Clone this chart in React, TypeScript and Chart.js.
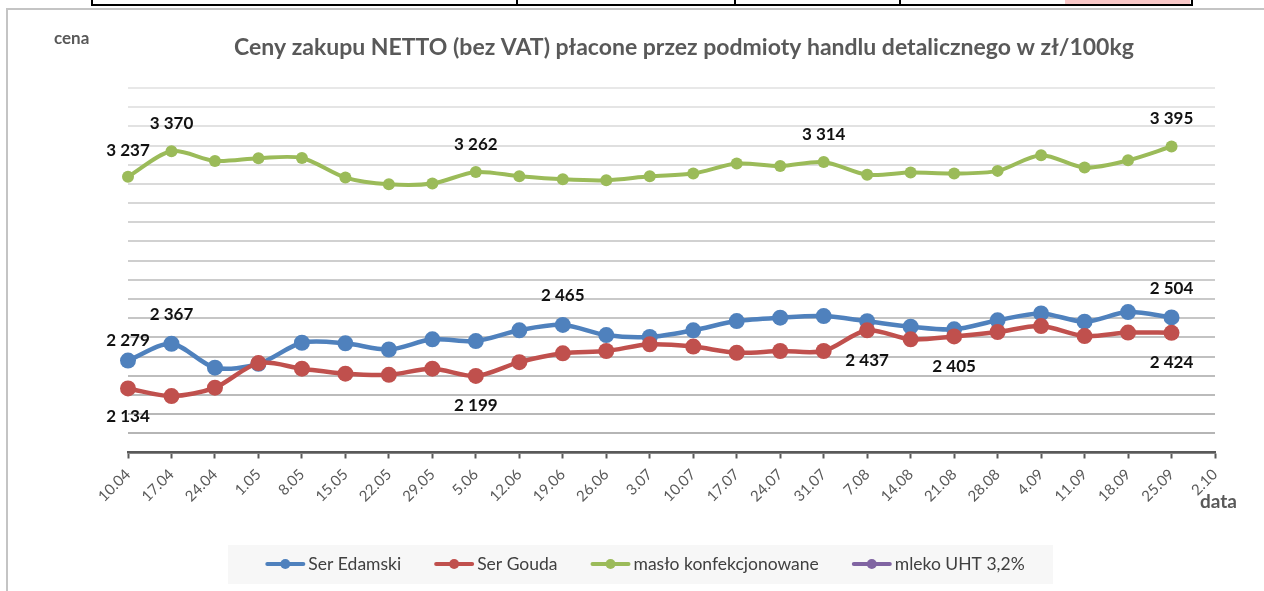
import React, { useEffect, useRef } from "react";
import { Chart, registerables } from "chart.js";

Chart.register(...registerables);

// ---------- DATA ----------
const categories = [
  "10.04", "17.04", "24.04", "1.05", "8.05", "15.05", "22.05", "29.05", "5.06",
  "12.06", "19.06", "26.06", "3.07", "10.07", "17.07", "24.07", "31.07", "7.08",
  "14.08", "21.08", "28.08", "4.09", "11.09", "18.09", "25.09", "2.10",
];

const serEdamski = [
  2279, 2367, 2242, 2262, 2372, 2369, 2337, 2390, 2381, 2437, 2465, 2412, 2402,
  2437, 2485, 2503, 2511, 2484, 2456, 2442, 2489, 2525, 2482, 2532, 2504, null,
];
const serGouda = [
  2134, 2094, 2138, 2266, 2237, 2211, 2205, 2237, 2199, 2271, 2317, 2329, 2364,
  2352, 2320, 2329, 2329, 2437, 2390, 2405, 2428, 2459, 2407, 2425, 2424, null,
];
const masloKonfekcjonowane = [
  3237, 3370, 3320, 3334, 3335, 3233, 3198, 3202, 3262, 3240, 3224, 3219, 3240,
  3254, 3306, 3294, 3314, 3248, 3259, 3254, 3268, 3350, 3285, 3323, 3395, null,
];
const mlekoUHT: (number | null)[] = [];

const seriesNames = ["Ser Edamski", "Ser Gouda", "masło konfekcjonowane", "mleko UHT 3,2%"];

// indices of points that carry a value label
const edamskiLabelIdx = [0, 1, 10, 24];
const goudaLabelIdx = [0, 8, 17, 19, 24];
const masloLabelIdx = [0, 1, 8, 16, 24];

const yMin = 1800;
const yMax = 3700;
const yStep = 100;

const titleText = "Ceny zakupu NETTO (bez VAT) płacone przez podmioty handlu detalicznego w zł/100kg";
const yAxisName = "cena";
const xAxisName = "data";

// ---------- STYLE ----------
const FONT = "Lato, 'Open Sans', sans-serif";
const COLORS = ["#4F81BD", "#C0504D", "#9BBB59", "#8064A2"];
const W = 1264;
const H = 591;

const fmt = (v: number) => String(v).replace(/\B(?=(\d{3})+(?!\d))/g, " ");

const decorPlugin = {
  id: "decor",
  afterDatasetsDraw(chart: any) {
    const ctx = chart.ctx;
    const specs = [
      { ds: 0, idx: edamskiLabelIdx, dy: -29, first: -20 },
      { ds: 1, idx: goudaLabelIdx, dy: 30, first: 28 },
      { ds: 2, idx: masloLabelIdx, dy: -28, first: -26 },
    ];
    ctx.save();
    ctx.font = `bold 17px ${FONT}`;
    ctx.fillStyle = "#111111";
    ctx.textAlign = "center";
    ctx.textBaseline = "middle";
    specs.forEach((s) => {
      const meta = chart.getDatasetMeta(s.ds);
      const data = chart.data.datasets[s.ds].data;
      s.idx.forEach((i) => {
        const el = meta.data[i];
        if (!el || data[i] == null) return;
        ctx.fillText(fmt(data[i]), el.x, el.y + (i === 0 ? s.first : s.dy));
      });
    });
    ctx.restore();
  },
  afterDraw(chart: any) {
    const ctx = chart.ctx;
    ctx.save();
    // title
    ctx.font = `bold 23px ${FONT}`;
    ctx.fillStyle = "#595959";
    ctx.textAlign = "center";
    ctx.textBaseline = "middle";
    ctx.fillText(titleText, 684, 48);
    // axis names
    ctx.textAlign = "left";
    ctx.font = `bold 17px ${FONT}`;
    ctx.fillText(yAxisName, 54, 39);
    ctx.font = `bold 19px ${FONT}`;
    ctx.fillText(xAxisName, 1200, 502);

    // legend
    const boxL = 228, boxR = 1053, boxT = 545, boxB = 584;
    ctx.fillStyle = "#f7f7f7";
    ctx.fillRect(boxL, boxT, boxR - boxL, boxB - boxT);
    ctx.font = `17.5px ${FONT}`;
    const lineLen = 40, gapTxt = 3, gapItem = 33;
    const widths = chart.data.datasets.map((d: any) => ctx.measureText(d.label).width);
    const total = widths.reduce((a: number, w: number) => a + lineLen + gapTxt + w, 0) + gapItem * (widths.length - 1);
    let x = 645 - total / 2;
    const cy = 564;
    chart.data.datasets.forEach((d: any, i: number) => {
      ctx.strokeStyle = d.borderColor;
      ctx.fillStyle = d.borderColor;
      ctx.lineWidth = 4;
      ctx.lineCap = "round";
      ctx.beginPath();
      ctx.moveTo(x + 2, cy);
      ctx.lineTo(x + lineLen - 2, cy);
      ctx.stroke();
      ctx.beginPath();
      ctx.arc(x + lineLen / 2, cy, 5, 0, Math.PI * 2);
      ctx.fill();
      ctx.fillStyle = "#404040";
      ctx.textAlign = "left";
      ctx.textBaseline = "middle";
      ctx.fillText(d.label, x + lineLen + gapTxt, cy);
      x += lineLen + gapTxt + widths[i] + gapItem;
    });
    ctx.restore();
  },
};

export default function App() {
  const ref = useRef<HTMLCanvasElement | null>(null);

  useEffect(() => {
    if (!ref.current) return;
    const chart = new Chart(ref.current, {
      type: "line",
      data: {
        labels: categories,
        datasets: [
          {
            label: seriesNames[0],
            data: serEdamski,
            borderColor: COLORS[0],
            backgroundColor: COLORS[0],
            borderWidth: 4.5,
            pointRadius: 8,
            pointBorderWidth: 0,
            tension: 0.3,
            order: 3,
            clip: false,
          },
          {
            label: seriesNames[1],
            data: serGouda,
            borderColor: COLORS[1],
            backgroundColor: COLORS[1],
            borderWidth: 4.5,
            pointRadius: 8,
            pointBorderWidth: 0,
            tension: 0.3,
            order: 2,
            clip: false,
          },
          {
            label: seriesNames[2],
            data: masloKonfekcjonowane,
            borderColor: COLORS[2],
            backgroundColor: COLORS[2],
            borderWidth: 4,
            pointRadius: 6,
            pointBorderWidth: 0,
            tension: 0.3,
            order: 1,
            clip: false,
          },
          {
            label: seriesNames[3],
            data: mlekoUHT,
            borderColor: COLORS[3],
            backgroundColor: COLORS[3],
            borderWidth: 4,
            pointRadius: 6,
            order: 4,
            clip: false,
          },
        ],
      },
      options: {
        responsive: false,
        animation: false,
        layout: { padding: { left: 128, right: 49, top: 88, bottom: 0 } },
        plugins: {
          legend: { display: false },
          title: { display: false },
          tooltip: { enabled: false },
        },
        scales: {
          x: {
            type: "category",
            offset: false,
            grid: {
              drawOnChartArea: false,
              drawTicks: true,
              tickLength: 6,
              tickColor: "#595959",
              tickWidth: 2,
            },
            border: { color: "#595959", width: 2.5 },
            ticks: {
              color: "#595959",
              font: { family: FONT, size: 15 },
              maxRotation: 45,
              minRotation: 45,
              autoSkip: false,
              padding: 7,
            },
            afterFit: (s: any) => {
              s.height = H - 452.5;
            },
          },
          y: {
            min: yMin,
            max: yMax,
            ticks: { display: false, stepSize: yStep },
            border: { display: false },
            grid: {
              drawTicks: false,
              lineWidth: 2,
              color: (c: any) => {
                const v = c.tick ? c.tick.value : yMin;
                const t = (v - yMin) / (yMax - yMin);
                const g = Math.round(178 + 54 * t);
                return `rgb(${g},${g},${g})`;
              },
            },
            afterFit: (s: any) => {
              s.width = 0;
            },
          },
        },
      },
      plugins: [decorPlugin],
    });
    return () => chart.destroy();
  }, []);

  const abs = (s: React.CSSProperties): React.CSSProperties => ({ position: "absolute", ...s });

  return (
    <div style={{ position: "fixed", left: 0, top: 0, width: W, height: H, background: "#fff", overflow: "hidden" }}>
      {/* fragment of table above the chart */}
      <div style={abs({ left: 1065, top: 0, width: 125, height: 4, background: "#f9c8c8" })} />
      <div style={abs({ left: 91, top: 4, width: 1102, height: 2, background: "#000" })} />
      {[91, 516, 734, 899, 1191].map((x) => (
        <div key={x} style={abs({ left: x, top: 0, width: 2, height: 6, background: "#000" })} />
      ))}
      {/* chart frame */}
      <div style={abs({ left: 6, top: 8, width: W - 6, height: 2, background: "#c4c4c4" })} />
      <div style={abs({ left: 6, top: 8, width: 2, height: H - 8, background: "#c4c4c4" })} />
      <canvas ref={ref} width={W} height={H} style={abs({ left: 0, top: 0, width: W, height: H })} />
    </div>
  );
}
